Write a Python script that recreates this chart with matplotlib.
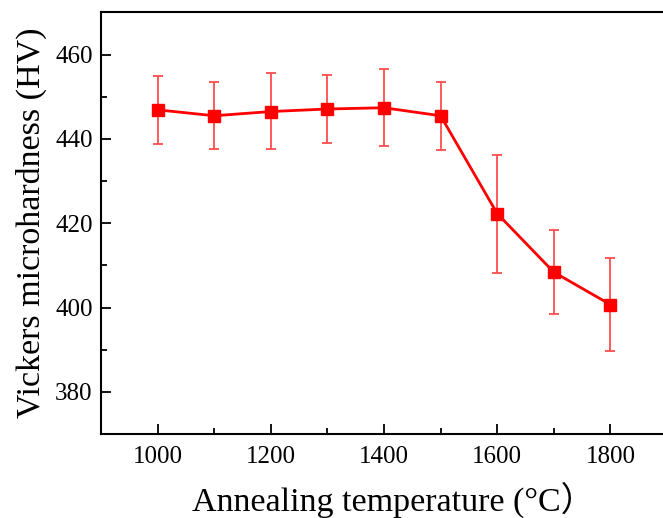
import matplotlib
matplotlib.use("Agg")
import matplotlib.pyplot as plt
from matplotlib.ticker import MultipleLocator

temperature = [1000, 1100, 1200, 1300, 1400, 1500, 1600, 1700, 1800]
hardness = [446.9, 445.5, 446.5, 447.1, 447.4, 445.5, 422.3, 408.4, 400.7]
err_upper = [455.0, 453.6, 455.6, 455.2, 456.5, 453.5, 436.3, 418.5, 411.8]
err_lower = [438.8, 437.5, 437.5, 439.0, 438.4, 437.4, 408.2, 398.4, 389.8]

yerr = [[h - lo for h, lo in zip(hardness, err_lower)],
        [hi - h for h, hi in zip(hardness, err_upper)]]

plt.rcParams['font.family'] = ['Liberation Serif', 'Noto Sans CJK SC', 'DejaVu Sans']

fig = plt.figure(figsize=(6.63, 5.18), dpi=100)
ax = fig.add_axes([0.1523, 0.1622, 0.8537, 0.8137])

ax.errorbar(temperature, hardness, yerr=yerr, fmt='none', ecolor='#ff4d4d',
            elinewidth=1.3, capsize=3.6, capthick=1.3, zorder=2)
ax.plot(temperature, hardness, color='#ff0000', lw=2, marker='s',
        markersize=9, markerfacecolor='#ff0000', markeredgecolor='#ff0000', zorder=3)

ax.set_xlim(900, 1900)
ax.set_ylim(370, 470)
ax.xaxis.set_major_locator(MultipleLocator(200))
ax.xaxis.set_minor_locator(MultipleLocator(100))
ax.yaxis.set_major_locator(MultipleLocator(20))
ax.yaxis.set_minor_locator(MultipleLocator(10))

ax.tick_params(which='major', direction='in', length=7, width=1.3, labelsize=18)
ax.tick_params(axis='x', which='major', pad=9)
ax.tick_params(axis='y', which='major', pad=6)
ax.tick_params(which='minor', direction='in', length=4, width=1.3)
for s in ax.spines.values():
    s.set_linewidth(1.5)

ax.set_xlabel('Annealing temperature (°C\uff09', fontsize=24.5)
ax.xaxis.set_label_coords(0.517, -0.112, transform=ax.transAxes)
ax.set_ylabel('Vickers microhardness (HV)', fontsize=24.5, labelpad=6)

fig.savefig('out.png', dpi=100)
